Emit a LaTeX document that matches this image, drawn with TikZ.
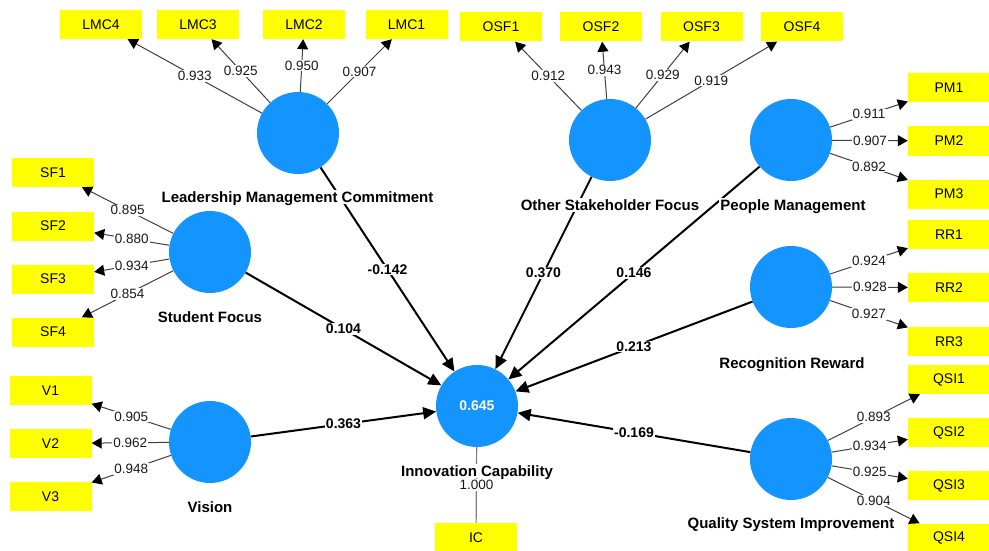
\documentclass[tikz,border=0pt]{standalone}
\usepackage{fontspec}
\setmainfont{Liberation Sans}
\usetikzlibrary{arrows.meta}

\definecolor{lvblue}{RGB}{20,148,255}
\definecolor{indyellow}{RGB}{255,255,0}

\begin{document}
\begin{tikzpicture}[
  x=1pt, y=-1pt,
  ind/.style={fill=indyellow, minimum width=82pt, minimum height=29pt, inner sep=0pt, font=\fontsize{14}{16}\selectfont},
  lv/.style={circle, fill=lvblue, minimum size=82pt, inner sep=0pt},
  lvname/.style={fill=white, inner sep=1.5pt, font=\fontsize{15}{17}\selectfont\bfseries, text height=10.7pt, text depth=0pt},
  load/.style={-{Triangle[length=10pt,width=11pt,color=black]}, draw=black!75, line width=1pt},
  coef/.style={-{Triangle[length=13pt,width=12pt]}, draw=black, line width=2pt},
  lw/.style={fill=white, inner sep=1pt, font=\fontsize{13.5}{15}\selectfont, text=black!90},
  cw/.style={fill=white, inner sep=1pt, font=\fontsize{14}{16}\selectfont\bfseries}
]
\path[fill=white, use as bounding box] (0,0) rectangle (989,551);

% latent variables
\node[lv] (lmc) at (298,133) {};
\node[lv] (osf) at (610,140) {};
\node[lv] (pm) at (791,140) {};
\node[lv] (sf) at (210,252) {};
\node[lv] (rr) at (791,287) {};
\node[lv] (vis) at (210,442) {};
\node[lv] (qsi) at (791,459) {};
\node[lv, text=white, font=\fontsize{14}{16}\selectfont\bfseries] (ic) at (477,406) {0.645};

% indicators
\node[ind] (lmc4) at (101,24.5) {LMC4};
\node[ind] (lmc3) at (198,24.5) {LMC3};
\node[ind] (lmc2) at (304,24.5) {LMC2};
\node[ind] (lmc1) at (406.5,24.5) {LMC1};
\node[ind] (osf1) at (501,27) {OSF1};
\node[ind] (osf2) at (601,27) {OSF2};
\node[ind] (osf3) at (701.5,27) {OSF3};
\node[ind] (osf4) at (802,27) {OSF4};
\node[ind] (pm1) at (949,88) {PM1};
\node[ind] (pm2) at (949,141) {PM2};
\node[ind] (pm3) at (949,194) {PM3};
\node[ind] (rr1) at (949,234.5) {RR1};
\node[ind] (rr2) at (949,287.5) {RR2};
\node[ind] (rr3) at (949,341.5) {RR3};
\node[ind] (qsi1) at (949,379.5) {QSI1};
\node[ind] (qsi2) at (949,432.5) {QSI2};
\node[ind] (qsi3) at (949,485.5) {QSI3};
\node[ind] (qsi4) at (949,538) {QSI4};
\node[ind] (sf1) at (53,172.5) {SF1};
\node[ind] (sf2) at (53,226) {SF2};
\node[ind] (sf3) at (53,279) {SF3};
\node[ind] (sf4) at (53,332) {SF4};
\node[ind] (v1) at (50.5,390.5) {V1};
\node[ind] (v2) at (50.5,443.5) {V2};
\node[ind] (v3) at (50.5,496.5) {V3};
\node[ind] (icx) at (476,537.5) {IC};

% outer loadings
\draw[load] (lmc) -- node[lw] {0.933} (lmc4);
\draw[load] (lmc) -- node[lw] {0.925} (lmc3);
\draw[load] (lmc) -- node[lw] {0.950} (lmc2);
\draw[load] (lmc) -- node[lw] {0.907} (lmc1);
\draw[load] (osf) -- node[lw] {0.912} (osf1);
\draw[load] (osf) -- node[lw] {0.943} (osf2);
\draw[load] (osf) -- node[lw] {0.929} (osf3);
\draw[load] (osf) -- node[lw] {0.919} (osf4);
\draw[load] (pm) -- node[lw] {0.911} (pm1);
\draw[load] (pm) -- node[lw] {0.907} (pm2);
\draw[load] (pm) -- node[lw] {0.892} (pm3);
\draw[load] (rr) -- node[lw] {0.924} (rr1);
\draw[load] (rr) -- node[lw] {0.928} (rr2);
\draw[load] (rr) -- node[lw] {0.927} (rr3);
\draw[load] (qsi) -- node[lw] {0.893} (qsi1);
\draw[load] (qsi) -- node[lw] {0.934} (qsi2);
\draw[load] (qsi) -- node[lw] {0.925} (qsi3);
\draw[load] (qsi) -- node[lw] {0.904} (qsi4);
\draw[load] (sf) -- node[lw] {0.895} (sf1);
\draw[load] (sf) -- node[lw] {0.880} (sf2);
\draw[load] (sf) -- node[lw] {0.934} (sf3);
\draw[load] (sf) -- node[lw] {0.854} (sf4);
\draw[load] (vis) -- node[lw] {0.905} (v1);
\draw[load] (vis) -- node[lw] {0.962} (v2);
\draw[load] (vis) -- node[lw] {0.948} (v3);
\draw[draw=black!50, line width=1.2pt] (ic) -- node[lw] {1.000} (icx);

% path coefficients
\draw[coef] (lmc) -- node[cw] {-0.142} (ic);
\draw[coef] (sf) -- node[cw] {0.104} (ic);
\draw[coef] (vis) -- node[cw] {0.363} (ic);
\draw[coef] (osf) -- node[cw] {0.370} (ic);
\draw[coef] (pm) -- node[cw] {0.146} (ic);
\draw[coef] (rr) -- node[cw] {0.213} (ic);
\draw[coef] (qsi) -- node[cw] {-0.169} (ic);

% construct names
\node[lvname] (lmcname) at (297.5,197) {Leadership Management Commitment};
\node[lvname] (sfname) at (210,317) {Student Focus};
\node[lvname] (visname) at (210,507) {Vision};
\node[lvname] (osfname) at (610,205) {Other Stakeholder Focus};
\node[lvname] (pmname) at (793,205) {People Management};
\node[lvname] (rrname) at (792,363) {Recognition Reward};
\node[lvname] (qsiname) at (791,523) {Quality System Improvement};
\node[lvname] (icname) at (477,471) {Innovation Capability};
\end{tikzpicture}
\end{document}
